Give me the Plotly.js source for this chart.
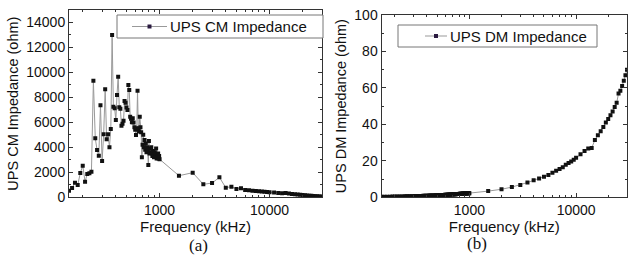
<!DOCTYPE html>
<html>
<head>
<meta charset="utf-8">
<script src="https://cdn.plot.ly/plotly-3.0.1.min.js"></script>
<style>html,body{margin:0;padding:0;background:#fff}#chart{width:628px;height:261px}</style>
</head>
<body>
<div id="chart"></div>
<script>
// Frequency sweep (kHz)
const frequency = [
  150,160,170,180,190,200,210,220,230,240,250,260,270,280,290,300,310,320,330,340,
  350,360,370,380,390,400,410,420,430,440,450,460,470,480,490,500,510,520,530,540,
  550,560,570,580,590,600,610,620,630,640,650,660,670,680,690,700,710,720,730,740,
  750,760,770,780,790,800,810,820,830,840,850,860,870,880,890,900,910,920,930,940,
  950,960,970,980,990,1000,
  1500,2000,2500,3000,3500,4000,4500,5000,5500,6000,6500,7000,7500,8000,8500,9000,9500,10000,
  11000,12000,13000,14000,15000,16000,17000,18000,19000,20000,21000,22000,23000,24000,25000,
  26000,27000,28000,29000,30000
];
// UPS CM impedance (ohm)
const cmImpedance = [
  530,740,1170,980,1940,2530,1250,1870,1920,2050,9340,4720,3790,3330,7370,2910,5050,8650,4650,5050,
  4000,5470,13000,7260,7130,6190,8200,9660,7210,7100,5740,5900,6140,7710,7580,7200,7000,9000,8600,6460,
  6300,6010,6330,6000,5610,5400,4990,5500,8540,5530,5260,6460,5600,5200,3200,4200,5000,4000,4590,3800,
  4300,3600,4000,3700,2590,4500,3500,3900,3600,4000,3500,3300,3700,3400,3200,3600,3300,3500,3900,3100,
  3400,3200,3500,3100,3300,3050,
  1730,1970,1040,1140,1600,770,850,660,720,585,560,530,500,480,460,440,425,410,
  380,350,320,340,300,270,250,220,200,180,160,145,130,115,100,
  85,75,65,55,50
];
// UPS DM impedance (ohm)
const dmImpedance = [
  0.30,0.32,0.34,0.36,0.38,0.40,0.42,0.44,0.46,0.49,0.51,0.53,0.55,0.58,0.60,0.62,0.65,0.67,0.69,0.72,
  0.74,0.77,0.79,0.82,0.84,0.87,0.89,0.92,0.94,0.97,0.99,1.02,1.04,1.07,1.09,1.12,1.14,1.17,1.19,1.22,
  1.24,1.27,1.29,1.32,1.34,1.37,1.39,1.42,1.44,1.47,1.49,1.52,1.54,1.57,1.59,1.62,1.64,1.67,1.69,1.72,
  1.74,1.77,1.79,1.82,1.84,1.87,1.89,1.92,1.94,1.96,1.98,2.00,2.02,2.04,2.06,2.08,2.10,2.12,2.14,2.16,
  2.18,2.20,2.22,2.24,2.26,2.28,
  3.4,4.4,5.6,6.8,8.1,9.3,10.3,11.3,12.3,13.4,14.6,15.5,16.5,17.8,18.8,19.6,20.6,21.7,
  23.6,25.4,26.8,27.0,31.5,34.0,36.3,38.6,41.0,43.0,45.0,47.0,49.5,51.8,57.0,
  58.5,61.0,64.0,67.0,70.0
];
const seriesNames = ['UPS CM Impedance', 'UPS DM Impedance'];
const xMajorTicks = [1000, 10000];
const xMinorTicks = [200,300,400,500,600,700,800,900,2000,3000,4000,5000,6000,7000,8000,9000,20000];

const W = 628, H = 261;
const px = v => v / W;
const py = v => 1 - v / H;

const font = {family: 'Liberation Sans, Arial, sans-serif', size: 14, color: '#111'};
const axisCommon = {
  showline: true, linecolor: '#333', linewidth: 1, mirror: 'ticks',
  ticks: 'inside', ticklen: 4, tickcolor: '#333', showgrid: false, zeroline: false,
  tickfont: {size: 14}
};
const xCommon = Object.assign({}, axisCommon, {
  type: 'log', range: [Math.log10(150), Math.log10(30000)],
  tickmode: 'array', tickvals: xMajorTicks, ticktext: xMajorTicks.map(String),
  minor: {tickmode: 'array', tickvals: xMinorTicks, ticks: 'inside', ticklen: 2, tickcolor: '#333'},
  title: {text: 'Frequency (kHz)', font: {size: 15}, standoff: 2},
  automargin: false
});

const markerStyle = {symbol: 'square', size: 4, color: '#111'};
const lineStyle = {color: '#999', width: 1};
const traces = [
  {x: frequency, y: cmImpedance, xaxis: 'x', yaxis: 'y', mode: 'lines+markers', name: seriesNames[0],
   line: lineStyle, marker: markerStyle, showlegend: false},
  {x: frequency, y: dmImpedance, xaxis: 'x2', yaxis: 'y2', mode: 'lines+markers', name: seriesNames[1],
   line: lineStyle, marker: markerStyle, showlegend: false}
];

// legend boxes drawn as shapes + text (pixel layout)
function legendBox(x0, x1, y0, y1, lx0, lx1, tx, label) {
  const yc = (y0 + y1) / 2;
  const shapes = [
    {type: 'rect', xref: 'paper', yref: 'paper', x0: px(x0), x1: px(x1), y0: py(y0), y1: py(y1),
     line: {color: '#777', width: 1}, fillcolor: '#fff', layer: 'above'},
    {type: 'line', xref: 'paper', yref: 'paper', x0: px(lx0), x1: px(lx1), y0: py(yc), y1: py(yc),
     line: {color: '#999', width: 1}, layer: 'above'},
    {type: 'rect', xref: 'paper', yref: 'paper', x0: px((lx0 + lx1) / 2 - 2), x1: px((lx0 + lx1) / 2 + 2),
     y0: py(yc - 2), y1: py(yc + 2), line: {width: 0}, fillcolor: '#2a1a40', layer: 'above'}
  ];
  const ann = {text: label, xref: 'paper', yref: 'paper', x: px(tx), y: py(yc), xanchor: 'left', yanchor: 'middle',
    showarrow: false, font: {size: 15, color: '#111'}};
  return {shapes, ann};
}
const lg1 = legendBox(117, 323, 15, 38, 132, 167, 168, seriesNames[0]);
const lg2 = legendBox(398, 597, 25, 47, 425, 447, 448, seriesNames[1]);

const layout = {
  width: W, height: H, margin: {l: 0, r: 0, t: 0, b: 0},
  paper_bgcolor: '#fff', plot_bgcolor: '#fff', font: font, showlegend: false,
  xaxis: Object.assign({}, xCommon, {domain: [px(69), px(322)], anchor: 'y'}),
  yaxis: Object.assign({}, axisCommon, {domain: [py(197.3), py(10)], range: [0, 15000], dtick: 2000, tickformat: 'd',
    minor: {dtick: 1000, ticks: 'inside', ticklen: 2, tickcolor: '#333'},
    title: {text: 'UPS CM Impedance (ohm)', font: {size: 14.5}, standoff: 4}, automargin: false, anchor: 'x'}),
  xaxis2: Object.assign({}, xCommon, {domain: [px(381.5), px(627)], anchor: 'y2'}),
  yaxis2: Object.assign({}, axisCommon, {domain: [py(197.3), py(15)], range: [0, 100], dtick: 20, tickformat: 'd',
    minor: {dtick: 10, ticks: 'inside', ticklen: 2, tickcolor: '#333'},
    title: {text: 'UPS DM Impedance (ohm)', font: {size: 14.5}, standoff: 4}, automargin: false, anchor: 'x2'}),
  shapes: lg1.shapes.concat(lg2.shapes),
  annotations: [
    lg1.ann, lg2.ann,
    {text: '(a)', xref: 'paper', yref: 'paper', x: px(198), y: py(245), xanchor: 'center', yanchor: 'middle', showarrow: false,
     font: {family: 'Liberation Serif, Times New Roman, serif', size: 17, color: '#111'}},
    {text: '(b)', xref: 'paper', yref: 'paper', x: px(477), y: py(243), xanchor: 'center', yanchor: 'middle', showarrow: false,
     font: {family: 'Liberation Serif, Times New Roman, serif', size: 17, color: '#111'}}
  ]
};

Plotly.newPlot('chart', traces, layout, {displayModeBar: false, staticPlot: true});
</script>
</body>
</html>
